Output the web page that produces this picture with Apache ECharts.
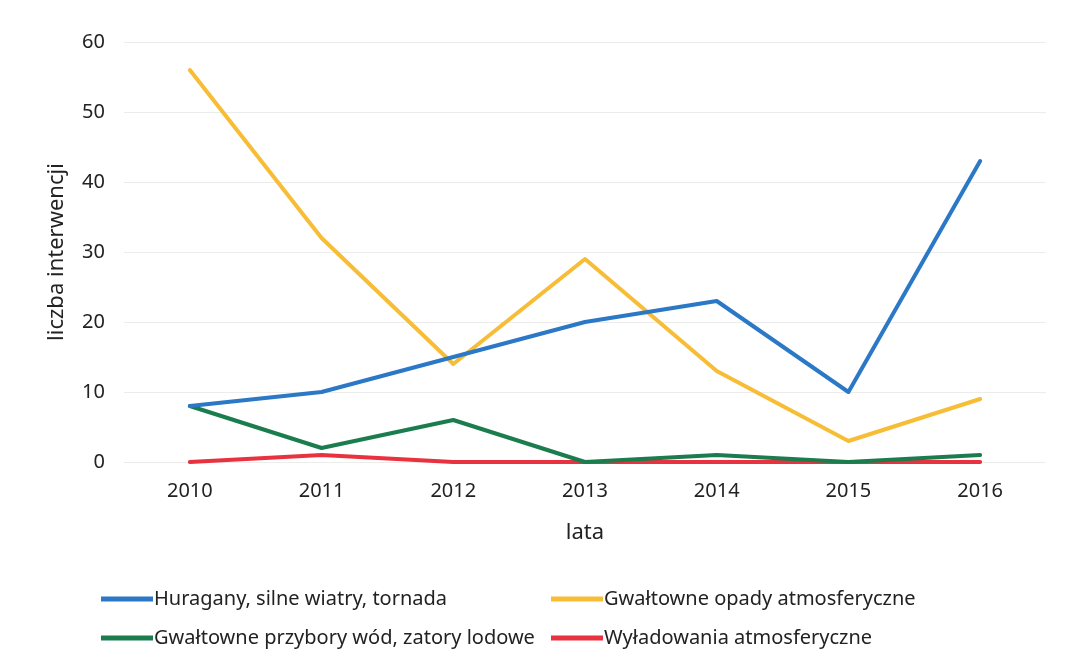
<!DOCTYPE html>
<html>
<head>
<meta charset="utf-8">
<script src="https://cdn.jsdelivr.net/npm/echarts@6/dist/echarts.min.js"></script>
<style>
  html, body { margin: 0; padding: 0; background: #fff; }
  #chart { width: 1066px; height: 653px; }
</style>
</head>
<body>
<div id="chart"></div>
<script>
// data
var years = ['2010', '2011', '2012', '2013', '2014', '2015', '2016'];
var huragany = [8, 10, 15, 20, 23, 10, 43];
var opady = [56, 32, 14, 29, 13, 3, 9];
var przybory = [8, 2, 6, 0, 1, 0, 1];
var wyladowania = [0, 1, 0, 0, 0, 0, 0];

var names = [
    'Huragany, silne wiatry, tornada',
    'Gwałtowne opady atmosferyczne',
    'Gwałtowne przybory wód, zatory lodowe',
    'Wyładowania atmosferyczne'
];

var font = 'Noto Sans';
var chart = echarts.init(document.getElementById('chart'));

function line(name, data, color, z) {
    return {
        name: name,
        type: 'line',
        data: data,
        z: z,
        showSymbol: false,
        symbol: 'none',
        lineStyle: { width: 4, color: color, cap: 'round', join: 'round' },
        itemStyle: { color: color }
    };
}

var legendCommon = {
    orient: 'vertical',
    top: 584,
    itemGap: 19,
    itemWidth: 52,
    itemHeight: 5,
    icon: 'rect',
    textStyle: { fontFamily: font, fontSize: 20, color: '#222', padding: [0, 0, 0, -4] }
};

chart.setOption({
    animation: false,
    backgroundColor: '#fff',
    grid: { left: 124, right: 20, top: 42, bottom: 191 },
    legend: [
        Object.assign({ left: 96, data: [names[0], names[2]] }, legendCommon),
        Object.assign({ left: 546, data: [names[1], names[3]] }, legendCommon)
    ],
    xAxis: {
        type: 'category',
        data: years,
        boundaryGap: true,
        name: 'lata',
        nameLocation: 'middle',
        nameGap: 60,
        nameTextStyle: { fontFamily: font, fontSize: 22, color: '#222' },
        axisLine: { show: false },
        axisTick: { show: false },
        axisLabel: { fontFamily: font, fontSize: 20, color: '#222', margin: 19 }
    },
    yAxis: {
        type: 'value',
        min: 0,
        max: 60,
        interval: 10,
        name: 'liczba interwencji',
        nameLocation: 'middle',
        nameGap: 56,
        nameTextStyle: { fontFamily: font, fontSize: 22, color: '#222' },
        axisLine: { show: false },
        axisTick: { show: false },
        axisLabel: { fontFamily: font, fontSize: 20, color: '#222', margin: 19 },
        splitLine: { lineStyle: { color: '#ececec', width: 1 } }
    },
    series: [
        line(names[0], huragany, '#2a78c6', 4),
        line(names[1], opady, '#f7bd36', 3),
        line(names[2], przybory, '#1b7d4e', 2),
        line(names[3], wyladowania, '#e8323f', 1)
    ]
});
</script>
</body>
</html>
